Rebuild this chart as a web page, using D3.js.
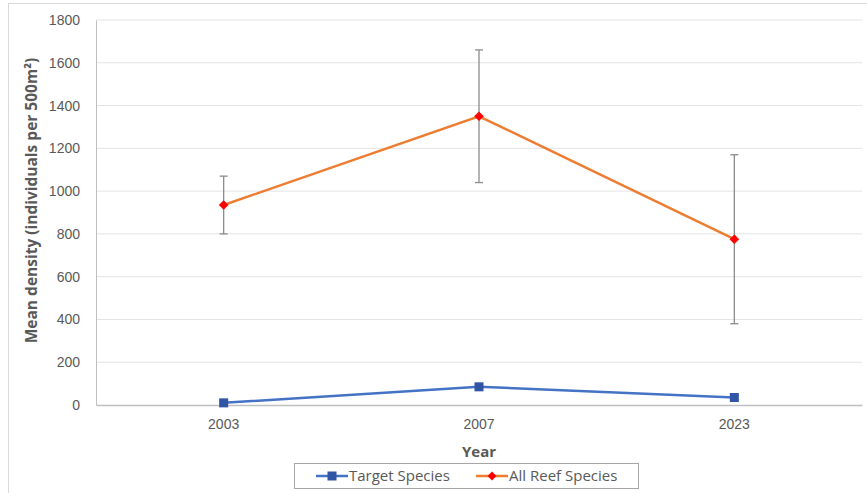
<!DOCTYPE html>
<html>
<head>
<meta charset="utf-8">
<script src="https://cdn.jsdelivr.net/npm/d3@7"></script>
<style>
  html, body { margin: 0; padding: 0; background: #fff; }
  svg { display: block; font-family: "Open Sans", "Liberation Sans", sans-serif; }
</style>
</head>
<body>
<svg id="chart" width="867" height="493"></svg>
<script>
// Survey years and mean densities (individuals per 500 m²)
const years = ["2003", "2007", "2023"];
const targetMean = [10, 85, 35];
const targetLow = [5, 70, 27];
const targetHigh = [15, 100, 43];
const reefMean = [935, 1350, 775];
const reefLow = [800, 1040, 380];
const reefHigh = [1070, 1660, 1170];
const yTicks = [0, 200, 400, 600, 800, 1000, 1200, 1400, 1600, 1800];

const svg = d3.select("#chart");
const W = 867, H = 493;
const m = { left: 96, right: 5, top: 20, bottom: 88 };

// outer chart frame
svg.append("rect")
  .attr("x", 8.5).attr("y", 3.5)
  .attr("width", W + 10).attr("height", H + 10)
  .attr("fill", "#fff").attr("stroke", "#d9d9d9");

const x = d3.scaleBand().domain(years).range([m.left, W - m.right]);
const y = d3.scaleLinear().domain([0, 1800]).range([H - m.bottom, m.top]);
const cx = d => x(d) + x.bandwidth() / 2;

// horizontal gridlines
svg.append("g").selectAll("line").data(yTicks.slice(1)).join("line")
  .attr("x1", m.left).attr("x2", W - m.right)
  .attr("y1", d => y(d)).attr("y2", d => y(d))
  .attr("stroke", "#e3e3e3").attr("stroke-width", 1);

// y axis
const yAxis = svg.append("g")
  .attr("transform", `translate(${m.left},0)`)
  .call(d3.axisLeft(y).tickValues(yTicks).tickFormat(d3.format("d")).tickSize(0).tickPadding(16));
yAxis.select(".domain").attr("stroke", "#bfbfbf");
yAxis.selectAll("text").attr("fill", "#595959").attr("font-size", 14);

// x axis
const xAxis = svg.append("g")
  .attr("transform", `translate(0,${y(0)})`)
  .call(d3.axisBottom(x).tickSize(0).tickPadding(14));
xAxis.select(".domain").attr("stroke", "#bfbfbf").attr("stroke-width", 1.5);
xAxis.selectAll("text").attr("fill", "#595959").attr("font-size", 14);

// axis titles
svg.append("text")
  .attr("transform", `translate(37,${(y(0) + y(1800)) / 2 - 12}) rotate(-90)`)
  .attr("text-anchor", "middle")
  .attr("fill", "#595959").attr("font-size", 15.5).attr("font-weight", "bold")
  .text("Mean density (individuals per 500m²)");
svg.append("text")
  .attr("x", cx("2007")).attr("y", 457)
  .attr("text-anchor", "middle")
  .attr("fill", "#595959").attr("font-size", 15).attr("font-weight", "bold")
  .text("Year");

function errorBars(lo, hi) {
  const g = svg.append("g").attr("stroke", "#8c8c8c").attr("stroke-width", 1.3);
  years.forEach((yr, i) => {
    g.append("line").attr("x1", cx(yr)).attr("x2", cx(yr))
      .attr("y1", y(lo[i])).attr("y2", y(hi[i]));
    [lo[i], hi[i]].forEach(v => g.append("line")
      .attr("x1", cx(yr) - 4).attr("x2", cx(yr) + 4)
      .attr("y1", y(v)).attr("y2", y(v)));
  });
}

const line = d3.line().x((d, i) => cx(years[i])).y(d => y(d));

// Target Species
errorBars(targetLow, targetHigh);
svg.append("path").datum(targetMean)
  .attr("d", line).attr("fill", "none")
  .attr("stroke", "#4472c4").attr("stroke-width", 2.5);
svg.append("g").selectAll("rect").data(targetMean).join("rect")
  .attr("x", (d, i) => cx(years[i]) - 4.5).attr("y", d => y(d) - 4.5)
  .attr("width", 9).attr("height", 9)
  .attr("fill", "#2f55a4");

// All Reef Species
errorBars(reefLow, reefHigh);
svg.append("path").datum(reefMean)
  .attr("d", line).attr("fill", "none")
  .attr("stroke", "#ed7d31").attr("stroke-width", 2.5);
svg.append("g").selectAll("path.dm").data(reefMean).join("path")
  .attr("class", "dm")
  .attr("d", d3.symbol(d3.symbolDiamond2, 60))
  .attr("transform", (d, i) => `translate(${cx(years[i])},${y(d)})`)
  .attr("fill", "#ff0000");

// legend
const lg = svg.append("g");
lg.append("rect").attr("x", 294.5).attr("y", 463.5).attr("width", 344).attr("height", 25)
  .attr("fill", "#fff").attr("stroke", "#a6a6a6");
const ly = 476;
lg.append("line").attr("x1", 316).attr("x2", 348).attr("y1", ly).attr("y2", ly)
  .attr("stroke", "#4472c4").attr("stroke-width", 2.5);
lg.append("rect").attr("x", 327.5).attr("y", ly - 4.5).attr("width", 9).attr("height", 9)
  .attr("fill", "#2f55a4");
lg.append("text").attr("x", 349).attr("y", ly + 5).attr("fill", "#595959").attr("font-size", 15)
  .text("Target Species");
lg.append("line").attr("x1", 476).attr("x2", 508).attr("y1", ly).attr("y2", ly)
  .attr("stroke", "#ed7d31").attr("stroke-width", 2.5);
lg.append("path").attr("d", d3.symbol(d3.symbolDiamond2, 50))
  .attr("transform", `translate(492,${ly})`).attr("fill", "#ff0000");
lg.append("text").attr("x", 509).attr("y", ly + 5).attr("fill", "#595959").attr("font-size", 15)
  .text("All Reef Species");
</script>
</body>
</html>
